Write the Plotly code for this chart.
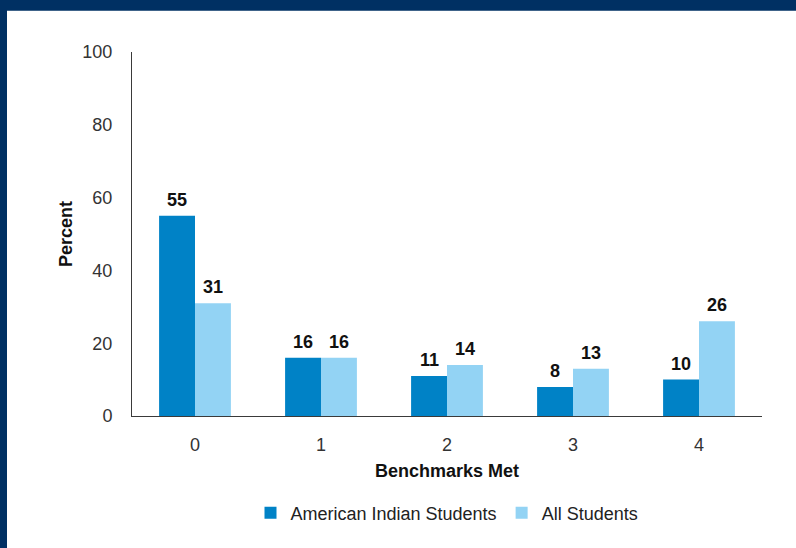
import plotly.graph_objects as go

# Share of students meeting 0-4 college readiness benchmarks
categories = ["0", "1", "2", "3", "4"]
american_indian = [55, 16, 11, 8, 10]
all_students = [31, 16, 14, 13, 26]
series_names = ["American Indian Students", "All Students"]
y_ticks = [0, 20, 40, 60, 80, 100]

FONT = "Liberation Sans, Arial, Helvetica, sans-serif"
DARK_BLUE = "#0082C6"
LIGHT_BLUE = "#93D3F4"
NAVY = "#003063"

W, H = 796, 548
ML, MR, MT, MB = 132, 34, 52, 132
PW, PH = W - ML - MR, H - MT - MB

x_idx = list(range(len(categories)))

fig = go.Figure()
fig.add_trace(go.Bar(x=x_idx, y=american_indian, name=series_names[0],
                     marker=dict(color=DARK_BLUE, line=dict(width=0))))
fig.add_trace(go.Bar(x=x_idx, y=all_students, name=series_names[1],
                     marker=dict(color=LIGHT_BLUE, line=dict(width=0))))

# value labels above each bar
annotations = []
for values, shift in ((american_indian, -18), (all_students, 18)):
    for xi, v in zip(x_idx, values):
        annotations.append(dict(x=xi, y=v, xref="x", yref="y", text=f"<b>{v}</b>",
                                showarrow=False, xshift=shift, yshift=4,
                                yanchor="bottom", xanchor="center",
                                font=dict(family=FONT, size=18, color="#111111")))


def px_to_paper_x(px):
    return (px - ML) / PW


def px_to_paper_y(py):
    return (H - MB - py) / PH


# navy frame along the top and left edges
shapes = [
    dict(type="rect", xref="paper", yref="paper",
         x0=px_to_paper_x(0), x1=px_to_paper_x(W),
         y0=px_to_paper_y(10.7), y1=px_to_paper_y(0),
         fillcolor=NAVY, line=dict(width=0), layer="above"),
    dict(type="rect", xref="paper", yref="paper",
         x0=px_to_paper_x(0), x1=px_to_paper_x(7),
         y0=px_to_paper_y(H), y1=px_to_paper_y(0),
         fillcolor=NAVY, line=dict(width=0), layer="above"),
]

fig.update_layout(
    width=W, height=H,
    margin=dict(l=ML, r=MR, t=MT, b=MB, pad=0),
    paper_bgcolor="white", plot_bgcolor="white",
    barmode="group", bargap=0.43, bargroupgap=0,
    font=dict(family=FONT, size=18, color="#333333"),
    showlegend=True,
    legend=dict(orientation="h", x=0.5, xanchor="center",
                y=px_to_paper_y(513), yanchor="middle",
                font=dict(family=FONT, size=18, color="#222222"),
                bgcolor="rgba(0,0,0,0)"),
    xaxis=dict(range=[-0.5, 4.5], tickmode="array", tickvals=x_idx, ticktext=categories,
               showgrid=False, zeroline=False, showline=True, linecolor="#3a3a3a",
               linewidth=1, ticks="", ticklabelstandoff=12,
               tickfont=dict(family=FONT, size=18, color="#333333"),
               title=dict(text="<b>Benchmarks Met</b>", standoff=10,
                          font=dict(family=FONT, size=18, color="#111111"))),
    yaxis=dict(range=[0, 100], tickmode="array", tickvals=y_ticks,
               showgrid=False, zeroline=False, showline=True, linecolor="#3a3a3a",
               linewidth=1, ticks="", ticklabelstandoff=15,
               tickfont=dict(family=FONT, size=18, color="#333333"),
               title=dict(text="<b>Percent</b>", standoff=5,
                          font=dict(family=FONT, size=18, color="#111111"))),
    annotations=annotations,
    shapes=shapes,
)

fig.write_html("out.html")
